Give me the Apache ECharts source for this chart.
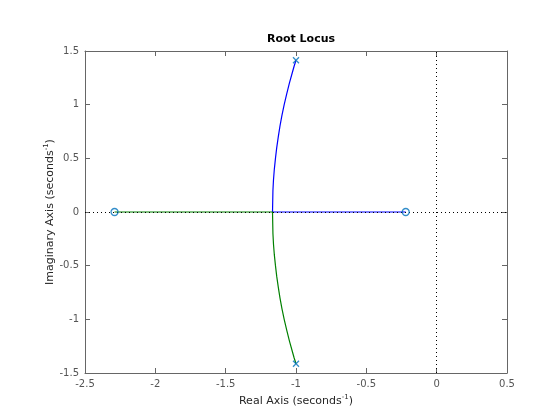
<!DOCTYPE html>
<html>
<head>
<meta charset="utf-8">
<script src="https://cdn.jsdelivr.net/npm/echarts@6/dist/echarts.min.js"></script>
<style>html,body{margin:0;padding:0;background:#fff}#c{width:560px;height:420px}</style>
</head>
<body>
<div id="c"></div>
<script>
// Values
const xTicks = [-2.5, -2, -1.5, -1, -0.5, 0, 0.5];
const yTicks = [-1.5, -1, -0.5, 0, 0.5, 1, 1.5];
const poles = [[-1, 1.414], [-1, -1.414]];
const zeros = [[-2.29, 0], [-0.22, 0]];
// Upper arc (blue) from pole to break-in point
const arcX = [-1.0, -1.013, -1.026, -1.047, -1.066, -1.084, -1.100, -1.114, -1.126, -1.137, -1.146, -1.154, -1.160, -1.164, -1.167];
const arcY = [1.414, 1.36, 1.3, 1.2, 1.1, 1.0, 0.9, 0.8, 0.7, 0.6, 0.5, 0.4, 0.3, 0.2, 0];
const blueEndX = -0.22;   // branch ends at right zero
const greenEndX = -2.29;  // branch ends at left zero

const blueData = arcX.map((x, i) => [x, arcY[i]]).concat([[blueEndX, 0]]);
const greenData = arcX.map((x, i) => [x, -arcY[i]]).concat([[greenEndX, 0]]);

const FONT = 'DejaVu Sans';
const AX = '#666666';
const LBL = '#555555';

const chart = echarts.init(document.getElementById('c'), null, {renderer: 'canvas'});

const xBase = {
  type: 'value', min: xTicks[0], max: xTicks[xTicks.length - 1], interval: 0.5,
  axisLine: {show: true, onZero: false, lineStyle: {color: AX, width: 1}},
  axisTick: {show: true, inside: true, length: 5, lineStyle: {color: AX}},
  splitLine: {show: false}
};
const yBase = {
  type: 'value', min: yTicks[0], max: yTicks[yTicks.length - 1], interval: 0.5,
  axisLine: {show: true, onZero: false, lineStyle: {color: AX, width: 1}},
  axisTick: {show: true, inside: true, length: 5, lineStyle: {color: AX}},
  splitLine: {show: false}
};
const fmt = v => String(v);

const supRich = {
  sup: {fontFamily: FONT, fontSize: 7, color: '#262626', padding: [0, 0, 7, 0]},
  base: {fontFamily: FONT, fontSize: 11, color: '#262626'}
};

chart.setOption({
  animation: false,
  backgroundColor: '#ffffff',
  title: {
    text: 'Root Locus', left: 296, top: 29, textAlign: 'center',
    textStyle: {fontFamily: FONT, fontSize: 11, fontWeight: 'bold', color: '#000'}
  },
  grid: {left: 85, right: 53, top: 51, bottom: 47, containLabel: false},
  xAxis: [
    Object.assign({}, xBase, {
      position: 'bottom',
      axisLabel: {show: true, margin: 6, fontFamily: FONT, fontSize: 10, color: LBL, formatter: fmt},
      name: '{base|Real Axis (seconds}{sup|-1}{base|)}',
      nameLocation: 'middle', nameGap: 21, nameMoveOverlap: false,
      nameTextStyle: {rich: supRich}
    }),
    Object.assign({}, xBase, {position: 'top', axisLabel: {show: false}})
  ],
  yAxis: [
    Object.assign({}, yBase, {
      position: 'left',
      axisLabel: {show: true, margin: 6, fontFamily: FONT, fontSize: 10, color: LBL, formatter: fmt},
      name: '{base|Imaginary Axis (seconds}{sup|-1}{base|)}',
      nameLocation: 'middle', nameGap: 28, nameMoveOverlap: false,
      nameTextStyle: {rich: supRich}
    }),
    Object.assign({}, yBase, {position: 'right', axisLabel: {show: false}})
  ],
  series: [
    {
      type: 'line', data: [], silent: true, z: 1,
      markLine: {
        silent: true, symbol: ['none', 'none'], label: {show: false},
        lineStyle: {color: '#000', width: 1, type: [1, 3]},
        data: [{xAxis: 0}, {yAxis: 0}]
      }
    },
    {
      name: 'blue', type: 'line', data: blueData, showSymbol: false, z: 3,
      lineStyle: {color: '#0000ff', width: 1.2}, itemStyle: {color: '#0000ff'}
    },
    {
      name: 'green', type: 'line', data: greenData, showSymbol: false, z: 3,
      lineStyle: {color: '#008000', width: 1.2}, itemStyle: {color: '#008000'}
    },
    {
      name: 'poles', type: 'scatter', data: poles, z: 5,
      symbol: 'path://M0,0L10,10M10,0L0,10', symbolSize: 6,
      itemStyle: {color: 'rgba(0,0,0,0)', borderColor: '#0072BD', borderWidth: 1.3}
    },
    {
      name: 'zeros', type: 'scatter', data: zeros, z: 5,
      symbol: 'circle', symbolSize: 7,
      itemStyle: {color: 'rgba(0,0,0,0)', borderColor: '#0072BD', borderWidth: 1.3}
    }
  ]
});
</script>
</body>
</html>
